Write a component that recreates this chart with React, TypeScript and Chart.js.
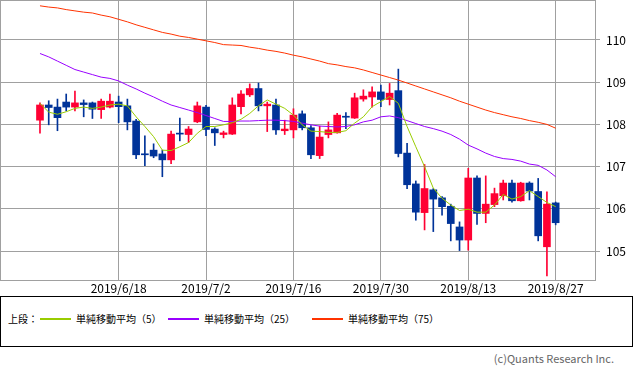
import React, { useEffect, useRef } from "react";
import { Chart, registerables } from "chart.js";

Chart.register(...registerables);

// ---- data ----
const dates = [
  "2019/6/5", "2019/6/6", "2019/6/7", "2019/6/10", "2019/6/11", "2019/6/12", "2019/6/13", "2019/6/14",
  "2019/6/17", "2019/6/18", "2019/6/19", "2019/6/20", "2019/6/21", "2019/6/24", "2019/6/25", "2019/6/26",
  "2019/6/27", "2019/6/28",
  "2019/7/1", "2019/7/2", "2019/7/3", "2019/7/4", "2019/7/5", "2019/7/8", "2019/7/9", "2019/7/10",
  "2019/7/11", "2019/7/12", "2019/7/15", "2019/7/16", "2019/7/17", "2019/7/18", "2019/7/19", "2019/7/22",
  "2019/7/23", "2019/7/24", "2019/7/25", "2019/7/26", "2019/7/29", "2019/7/30", "2019/7/31",
  "2019/8/1", "2019/8/2", "2019/8/5", "2019/8/6", "2019/8/7", "2019/8/8", "2019/8/9", "2019/8/12",
  "2019/8/13", "2019/8/14", "2019/8/15", "2019/8/16", "2019/8/19", "2019/8/20", "2019/8/21", "2019/8/22",
  "2019/8/23", "2019/8/26", "2019/8/27",
];

const opens = [
  108.10, 108.46, 108.41, 108.53, 108.41, 108.51, 108.51, 108.35, 108.41, 108.53,
  108.44, 108.08, 107.29, 107.39, 107.30, 107.16, 107.78, 107.76, 108.06, 108.41,
  107.89, 107.76, 107.77, 108.42, 108.70, 108.85, 108.44, 108.46, 107.85, 107.87,
  108.25, 107.92, 107.26, 107.76, 107.80, 108.19, 108.15, 108.60, 108.65, 108.77,
  108.59, 108.80, 107.32, 106.59, 105.91, 106.45, 106.26, 106.06, 105.57, 105.26,
  106.73, 105.89, 106.10, 106.31, 106.61, 106.19, 106.61, 106.41, 105.10, 106.14,
];
const highs = [
  108.51, 108.56, 108.60, 108.72, 108.79, 108.58, 108.53, 108.60, 108.72, 108.67,
  108.60, 108.12, 107.73, 107.54, 107.39, 107.84, 108.15, 107.95, 108.53, 108.45,
  107.92, 107.84, 108.63, 108.80, 108.96, 108.98, 108.53, 108.60, 108.10, 108.37,
  108.32, 107.97, 107.96, 108.06, 108.26, 108.28, 108.74, 108.82, 108.89, 108.93,
  108.97, 109.31, 107.55, 106.66, 107.05, 106.48, 106.29, 106.11, 105.69, 106.96,
  106.78, 106.78, 106.49, 106.68, 106.68, 106.63, 106.64, 106.72, 106.40, 106.16,
];
const lows = [
  107.79, 107.99, 107.85, 108.32, 108.32, 108.18, 108.14, 108.14, 108.39, 108.04,
  107.87, 107.19, 107.02, 107.21, 106.76, 107.07, 107.61, 107.57, 108.04, 107.73,
  107.50, 107.68, 107.76, 108.25, 108.66, 108.32, 107.83, 107.76, 107.76, 107.68,
  107.87, 107.19, 107.19, 107.68, 107.79, 107.90, 108.14, 108.55, 108.41, 108.42,
  108.46, 107.23, 106.48, 105.73, 105.50, 105.46, 105.85, 105.24, 105.01, 105.02,
  105.63, 105.67, 106.05, 106.21, 106.16, 106.18, 106.21, 105.24, 104.41, 105.62,
];
const closes = [
  108.46, 108.40, 108.16, 108.41, 108.51, 108.47, 108.36, 108.55, 108.55, 108.42,
  108.06, 107.28, 107.28, 107.25, 107.16, 107.77, 107.77, 107.89, 108.44, 107.88,
  107.80, 107.80, 108.46, 108.72, 108.85, 108.44, 108.48, 107.87, 107.89, 108.22,
  107.92, 107.28, 107.70, 107.87, 108.22, 108.17, 108.63, 108.67, 108.77, 108.59,
  108.74, 107.31, 106.57, 105.92, 106.48, 106.23, 106.05, 105.65, 105.26, 106.73,
  105.89, 106.11, 106.36, 106.61, 106.19, 106.61, 106.42, 105.36, 106.11, 105.67,
];

const ma5 = [
  108.50, 108.29, 108.24, 108.30, 108.38, 108.41, 108.38, 108.41, 108.46, 108.48,
  108.44, 108.18, 107.95, 107.71, 107.39, 107.38, 107.47, 107.57, 107.79, 107.95,
  107.95, 107.99, 108.04, 108.12, 108.26, 108.44, 108.58, 108.48, 108.38, 108.22,
  107.99, 107.84, 107.83, 107.81, 107.81, 107.85, 108.03, 108.18, 108.42, 108.54,
  108.66, 108.50, 107.95, 107.47, 107.00, 106.49, 106.25, 106.09, 105.96, 105.99,
  105.92, 105.92, 106.09, 106.34, 106.23, 106.29, 106.43, 106.29, 106.15, 106.05,
];
const ma25 = [
  109.68, 109.60, 109.50, 109.40, 109.30, 109.24, 109.18, 109.12, 109.09, 109.03,
  108.93, 108.84, 108.74, 108.65, 108.55, 108.46, 108.40, 108.34, 108.28, 108.21,
  108.14, 108.07, 108.07, 108.08, 108.08, 108.09, 108.10, 108.10, 108.09, 108.07,
  108.03, 107.99, 107.96, 107.95, 107.94, 107.95, 107.99, 108.06, 108.10, 108.18,
  108.20, 108.16, 108.09, 108.02, 107.95, 107.90, 107.84, 107.76, 107.65, 107.51,
  107.42, 107.32, 107.24, 107.19, 107.17, 107.13, 107.06, 107.03, 106.92, 106.76,
];
const ma75 = [
  110.81, 110.78, 110.76, 110.72, 110.69, 110.66, 110.64, 110.59, 110.55, 110.49,
  110.43, 110.36, 110.30, 110.24, 110.18, 110.14, 110.09, 110.06, 110.02, 109.98,
  109.94, 109.89, 109.88, 109.87, 109.83, 109.80, 109.76, 109.73, 109.69, 109.64,
  109.60, 109.55, 109.50, 109.44, 109.41, 109.37, 109.34, 109.29, 109.23, 109.17,
  109.11, 109.05, 108.98, 108.91, 108.84, 108.77, 108.70, 108.63, 108.55, 108.48,
  108.41, 108.34, 108.28, 108.23, 108.18, 108.14, 108.09, 108.05, 108.00, 107.91,
];

const yTicks = [105, 106, 107, 108, 109, 110];
const xTickIndex = [9, 19, 29, 39, 49, 59];

const legendPrefix = "上段：";
const maNames = ["単純移動平均（5）", "単純移動平均（25）", "単純移動平均（75）"];
const maColors = ["#99cc00", "#9900ff", "#ff3300"];
const upColor = "#ff0033";
const downColor = "#003399";
const copyright = "(c)Quants Research Inc.";

const gridColor = "#a0a0a0";
const fontFamily = "'Noto Sans CJK JP', 'Noto Sans', sans-serif";

const framePlugin = {
  id: "frame",
  afterDatasetsDraw(chart: any) {
    const { ctx, chartArea } = chart;
    const { left, top, right, bottom } = chartArea;
    ctx.save();
    ctx.strokeStyle = gridColor;
    ctx.lineWidth = 1;
    ctx.strokeRect(left - 0.5, top - 0.5, right - left + 1, bottom - top + 1);
    ctx.restore();
  },
};

function CandleChart() {
  const ref = useRef<HTMLCanvasElement | null>(null);

  useEffect(() => {
    if (!ref.current) return;
    const candleColors = opens.map((o, i) => (closes[i] >= o ? upColor : downColor));
    const line = (vals: number[], color: string, label: string) => ({
      type: "line" as const,
      label,
      data: vals.map((v, i) => ({ x: i, y: v })),
      borderColor: color,
      backgroundColor: color,
      borderWidth: 1,
      pointRadius: 0,
      tension: 0,
      order: 0,
    });

    const chart = new Chart(ref.current, {
      type: "bar",
      data: {
        datasets: [
          line(ma5, maColors[0], maNames[0]),
          line(ma25, maColors[1], maNames[1]),
          line(ma75, maColors[2], maNames[2]),
          {
            type: "bar",
            label: "body",
            data: opens.map((o, i) => ({ x: i, y: [o, closes[i]] })),
            backgroundColor: candleColors,
            borderWidth: 0,
            barThickness: 7,
            minBarLength: 1,
            grouped: false,
            order: 1,
          } as any,
          {
            type: "bar",
            label: "wick",
            data: lows.map((l, i) => ({ x: i, y: [l, highs[i]] })),
            backgroundColor: candleColors,
            borderWidth: 0,
            barThickness: 1,
            grouped: false,
            order: 2,
          } as any,
        ],
      },
      options: {
        animation: false,
        responsive: false,
        maintainAspectRatio: false,
        layout: { padding: { left: 1, top: 1, right: 0, bottom: 0 } },
        plugins: { legend: { display: false }, tooltip: { enabled: false } },
        scales: {
          x: {
            type: "linear",
            min: -4.46,
            max: 63.5,
            offset: false,
            grid: { color: gridColor, lineWidth: 1, drawTicks: false, offset: false },
            border: { display: false },
            afterBuildTicks: (scale: any) => {
              scale.ticks = xTickIndex.map((v) => ({ value: v }));
            },
            afterFit: (scale: any) => {
              scale.height = 16;
              scale.paddingLeft = 0;
              scale.paddingRight = 0;
              scale.paddingTop = 0;
              scale.paddingBottom = 0;
            },
            ticks: {
              padding: 1,
              maxRotation: 0,
              autoSkip: false,
              color: "#000",
              font: { family: fontFamily, size: 12 },
              callback: (v: any) => dates[v as number] ?? "",
            },
          },
          y: {
            type: "linear",
            position: "right",
            min: 104.313,
            max: 110.924,
            grid: { color: gridColor, lineWidth: 1, drawTicks: true, tickLength: 5 },
            border: { display: false },
            afterBuildTicks: (scale: any) => {
              scale.ticks = yTicks.map((v) => ({ value: v }));
            },
            afterFit: (scale: any) => {
              scale.width = 38;
              scale.paddingLeft = 0;
              scale.paddingRight = 0;
              scale.paddingTop = 0;
              scale.paddingBottom = 0;
            },
            ticks: {
              padding: 6,
              color: "#000",
              font: { family: fontFamily, size: 12 },
              callback: (v: any) => String(v),
            },
          },
        },
      },
      plugins: [framePlugin],
    } as any);

    return () => chart.destroy();
  }, []);

  return <canvas ref={ref} width={633} height={296} style={{ display: "block", width: 633, height: 296 }} />;
}

export default function App() {
  const swatchLeft = [40, 168, 312];
  const textLeft = [76, 204, 348];
  return (
    <div
      style={{
        position: "absolute",
        left: 0,
        top: 0,
        width: 633,
        height: 370,
        background: "#fff",
        fontFamily,
        overflow: "hidden",
      }}
    >
      <CandleChart />
      <div
        style={{
          position: "absolute",
          left: 0,
          top: 296,
          width: 633,
          height: 51,
          boxSizing: "border-box",
          border: "1px solid #000",
          fontSize: 10,
          color: "#000",
        }}
      >
        <span style={{ position: "absolute", left: 7, top: 15, lineHeight: "14px", whiteSpace: "nowrap" }}>
          {legendPrefix}
        </span>
        {maNames.map((name, i) => (
          <React.Fragment key={name}>
            <div
              style={{
                position: "absolute",
                left: swatchLeft[i] - 1,
                top: 21,
                width: 31,
                height: 2,
                background: maColors[i],
              }}
            />
            <span
              style={{
                position: "absolute",
                left: textLeft[i] - 1,
                top: 15,
                lineHeight: "14px",
                whiteSpace: "nowrap",
              }}
            >
              {name}
            </span>
          </React.Fragment>
        ))}
      </div>
      <div
        style={{
          position: "absolute",
          right: 19,
          top: 351,
          fontSize: 11,
          lineHeight: "14px",
          color: "#666",
          whiteSpace: "nowrap",
        }}
      >
        {copyright}
      </div>
    </div>
  );
}
